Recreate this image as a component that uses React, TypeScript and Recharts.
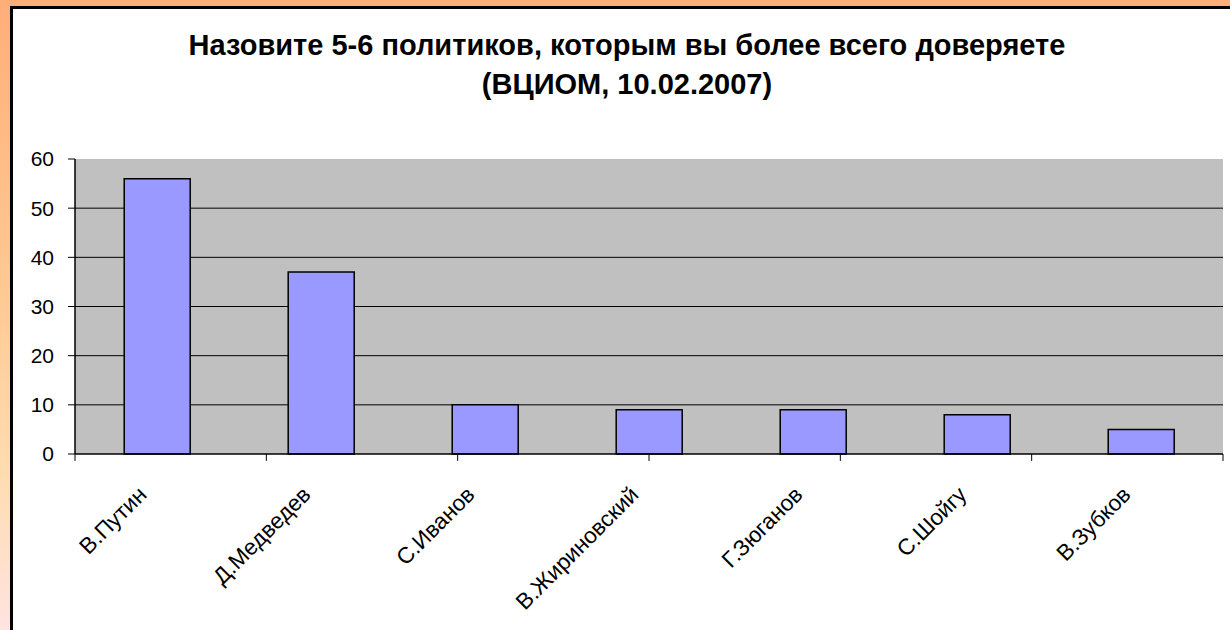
import React from "react";
import {
  BarChart,
  Bar,
  XAxis,
  YAxis,
  CartesianGrid,
  ReferenceArea,
  ReferenceLine,
} from "recharts";

const politicians = [
  "В.Путин",
  "Д.Медведев",
  "С.Иванов",
  "В.Жириновский",
  "Г.Зюганов",
  "С.Шойгу",
  "В.Зубков",
];
const trustValues = [56, 37, 10, 9, 9, 8, 5];
const yTicks = [0, 10, 20, 30, 40, 50, 60];
const gridValues = [10, 20, 30, 40, 50];

const titleLine1 = "Назовите 5-6 политиков, которым вы более всего доверяете";
const titleLine2 = "(ВЦИОМ, 10.02.2007)";

const FONT = "'Liberation Sans', Arial, sans-serif";

const data = politicians.map((name, i) => ({ name, value: trustValues[i] }));
// category boundaries on the hidden numeric axis (0..n)
const boundaries = [...politicians.map((_, i) => i), politicians.length];

function NameTick(props: any) {
  const { x, y, payload } = props;
  const px = x - 9;
  const py = y + 40;
  return (
    <text
      x={px}
      y={py}
      transform={`rotate(-45, ${px}, ${py})`}
      textAnchor="end"
      fontSize={22.5}
      fontFamily={FONT}
      fill="#000"
    >
      {payload.value}
    </text>
  );
}

export default function App() {
  return (
    <div
      style={{
        position: "fixed",
        left: 0,
        top: 0,
        width: 1230,
        height: 630,
        overflow: "hidden",
        background: "linear-gradient(to bottom, #FFAE78 0%, #FFC892 45%, #FFDCB0 75%, #FFE4E0 100%)",
      }}
    >
      <div
        style={{
          position: "absolute",
          left: 10,
          top: 6,
          width: 1240,
          height: 640,
          border: "3px solid #000",
          background: "#fff",
          boxSizing: "border-box",
        }}
      />
      <div
        style={{
          position: "absolute",
          left: 0,
          top: 26,
          width: 1254,
          textAlign: "center",
          fontFamily: FONT,
          fontWeight: "bold",
          fontSize: 29,
          lineHeight: "39px",
          color: "#000",
        }}
      >
        <div>{titleLine1}</div>
        <div>{titleLine2}</div>
      </div>
      <div style={{ position: "absolute", left: 0, top: 0 }}>
        <BarChart
          width={1230}
          height={630}
          data={data}
          margin={{ top: 159, right: 7, left: 15, bottom: 56 }}
          barCategoryGap="30%"
        >
          <CartesianGrid
            fill="#C0C0C0"
            stroke="#000"
            vertical={false}
            horizontalValues={gridValues}
          />
          <XAxis xAxisId="b" type="number" domain={[0, politicians.length]} hide />
          <XAxis
            dataKey="name"
            interval={0}
            tickLine={false}
            tickSize={0}
            height={120}
            axisLine={{ stroke: "#000", strokeWidth: 1.5 }}
            tick={<NameTick />}
          />
          <YAxis
            domain={[0, 60]}
            ticks={yTicks}
            width={60}
            tickSize={7}
            tickMargin={14}
            axisLine={{ stroke: "#000", strokeWidth: 1.5 }}
            tickLine={{ stroke: "#000" }}
            tick={{ fontSize: 21, fontFamily: FONT, fill: "#000" }}
          />
          <ReferenceArea
            xAxisId="b"
            x1={0}
            x2={politicians.length}
            y1={0}
            y2={60}
            fill="none"
            stroke="#808080"
            strokeWidth={2}
          />
          {boundaries.map((b) => (
            <ReferenceLine
              key={b}
              xAxisId="b"
              segment={[
                { x: b, y: 0 },
                { x: b, y: -1.4 },
              ]}
              stroke="#000"
              ifOverflow="visible"
            />
          ))}
          <Bar
            dataKey="value"
            fill="#9999FF"
            stroke="#000"
            strokeWidth={1.5}
            isAnimationActive={false}
          />
        </BarChart>
      </div>
    </div>
  );
}
